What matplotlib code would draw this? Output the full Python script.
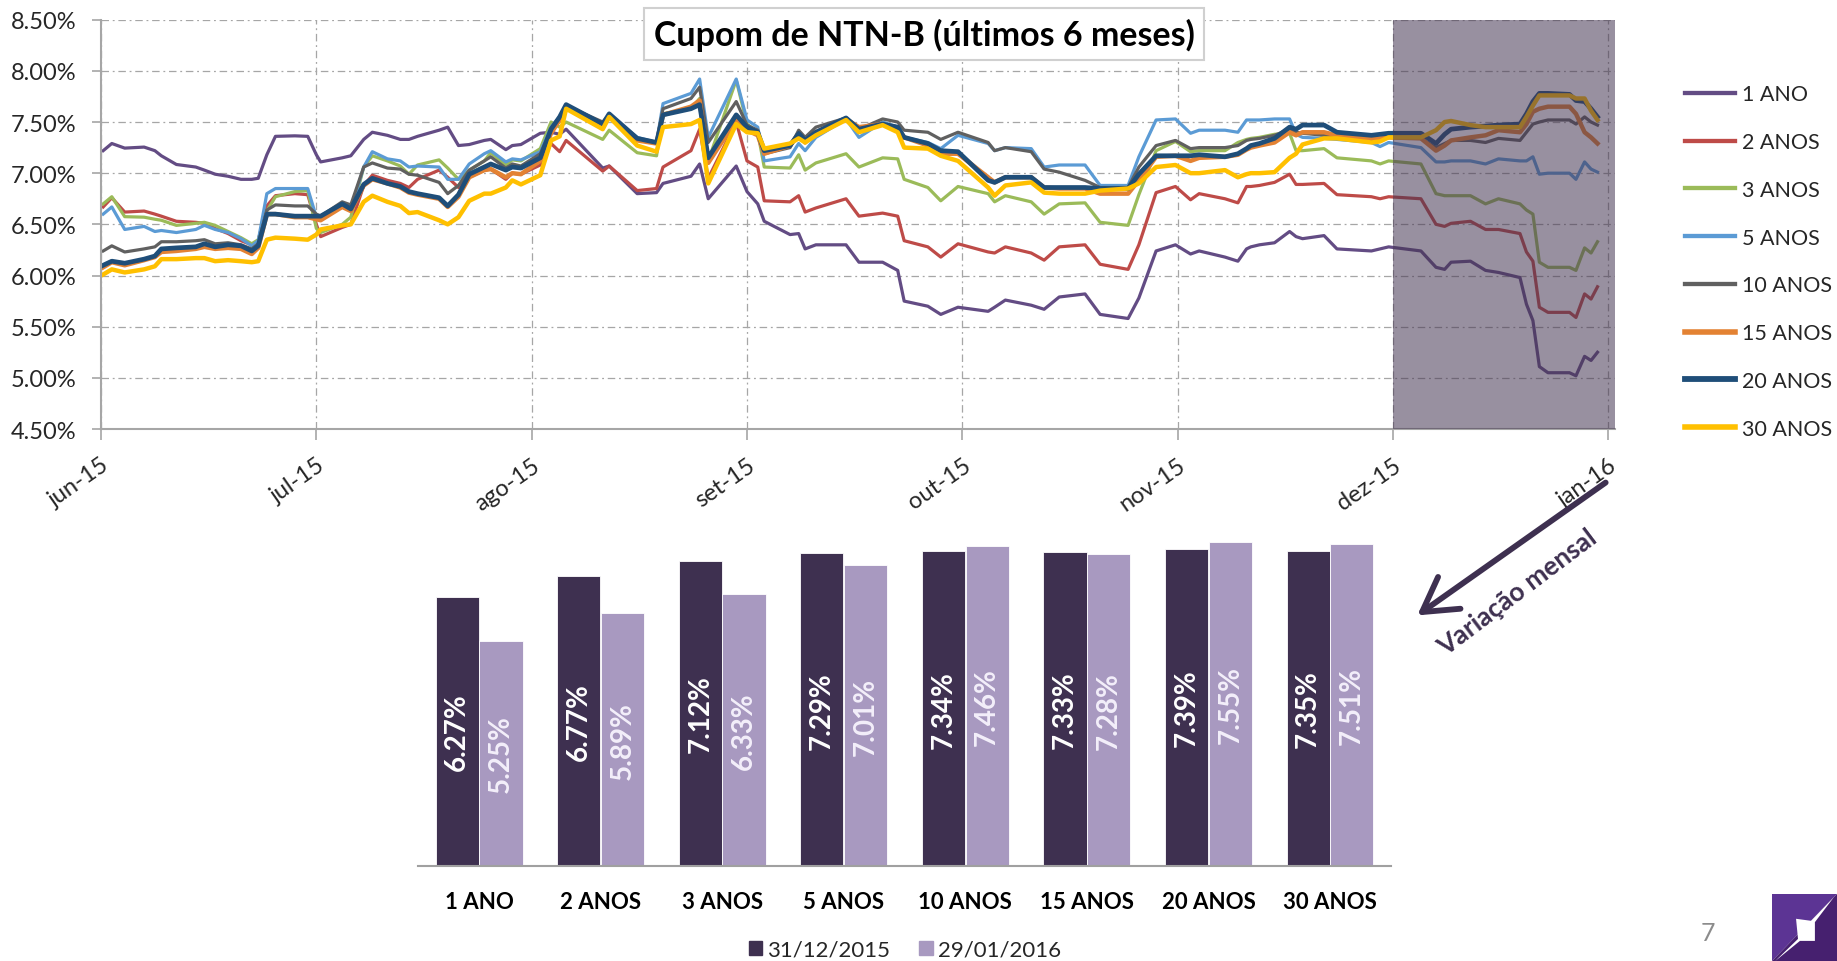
import matplotlib
matplotlib.use('Agg')
import matplotlib.pyplot as plt
import numpy as np
from matplotlib.patches import Polygon, Patch, FancyArrowPatch
from matplotlib.lines import Line2D
from matplotlib.ticker import FuncFormatter

plt.rcParams['font.family'] = ['Lato', 'DejaVu Sans']

# ---------------- data ----------------
month_labels = ['jun-15', 'jul-15', 'ago-15', 'set-15', 'out-15', 'nov-15', 'dez-15', 'jan-16']

# sample positions, in months since jun-15
months = [0.01, 0.05, 0.11, 0.20, 0.25, 0.28, 0.35, 0.44, 0.48, 0.53, 0.59, 0.65, 0.70, 0.73, 0.77, 0.81,
          0.90, 0.96, 1.00, 1.02, 1.12, 1.16, 1.22, 1.26, 1.33, 1.39, 1.43, 1.47, 1.57, 1.61, 1.66, 1.71, 1.78,
          1.81, 1.88, 1.91, 1.95, 2.04, 2.09, 2.13, 2.16, 2.33, 2.36, 2.49, 2.58, 2.61, 2.74, 2.78, 2.82,
          2.95, 3.00, 3.05, 3.08, 3.20, 3.24, 3.27, 3.32, 3.46,
          3.52, 3.63, 3.70, 3.73, 3.84, 3.90, 3.98, 4.12, 4.15, 4.20, 4.32, 4.38, 4.45, 4.57, 4.64, 4.77,
          4.82, 4.90, 4.99, 5.06, 5.10,
          5.22, 5.28, 5.32, 5.34, 5.38, 5.45, 5.52, 5.55, 5.58, 5.68, 5.74, 5.90, 5.94, 5.98, 6.13, 6.20,
          6.24, 6.27, 6.36, 6.43, 6.49, 6.59, 6.62, 6.65, 6.68, 6.72, 6.82, 6.85, 6.89, 6.92, 6.95]

ano1 = [7.22, 7.29, 7.245, 7.255, 7.22, 7.17, 7.085, 7.06, 7.03, 6.99, 6.97, 6.94, 6.94, 6.95, 7.18, 7.36,
        7.365, 7.36, 7.18, 7.11, 7.15, 7.17, 7.33, 7.40, 7.37, 7.33, 7.33, 7.36, 7.42, 7.45, 7.27, 7.28, 7.32,
        7.33, 7.23, 7.27, 7.28, 7.39, 7.40, 7.38, 7.43, 7.05, 7.07, 6.80, 6.81, 6.90, 6.97, 7.09, 6.75,
        7.07, 6.82, 6.70, 6.53, 6.40, 6.41, 6.26, 6.30, 6.30,
        6.13, 6.13, 6.05, 5.75, 5.70, 5.62, 5.69, 5.65, 5.69, 5.76, 5.71, 5.67, 5.79, 5.82, 5.62, 5.58,
        5.78, 6.24, 6.30, 6.21, 6.24,
        6.18, 6.14, 6.26, 6.28, 6.30, 6.32, 6.43, 6.38, 6.36, 6.39, 6.26, 6.24, 6.26, 6.28, 6.24, 6.08,
        6.06, 6.13, 6.14, 6.05, 6.03, 5.98, 5.72, 5.56, 5.11, 5.05, 5.05, 5.02, 5.21, 5.17, 5.25]

anos2 = [6.67, 6.76, 6.62, 6.63, 6.60, 6.58, 6.53, 6.52, 6.51, 6.46, 6.41, 6.34, 6.30, 6.34, 6.68, 6.78,
         6.80, 6.79, 6.50, 6.38, 6.47, 6.50, 6.88, 6.98, 6.93, 6.90, 6.86, 6.94, 7.03, 6.96, 6.86, 6.96, 7.03,
         7.04, 6.94, 7.00, 6.99, 7.08, 7.29, 7.21, 7.32, 7.02, 7.07, 6.83, 6.85, 7.06, 7.22, 7.43, 6.95,
         7.50, 7.12, 7.06, 6.73, 6.72, 6.78, 6.62, 6.66, 6.75,
         6.58, 6.61, 6.58, 6.34, 6.28, 6.18, 6.31, 6.23, 6.22, 6.28, 6.22, 6.15, 6.28, 6.30, 6.11, 6.06,
         6.30, 6.81, 6.87, 6.74, 6.80,
         6.75, 6.71, 6.87, 6.87, 6.88, 6.91, 6.99, 6.89, 6.89, 6.90, 6.79, 6.77, 6.75, 6.77, 6.75, 6.50,
         6.48, 6.51, 6.53, 6.45, 6.45, 6.41, 6.23, 6.14, 5.69, 5.64, 5.64, 5.59, 5.82, 5.77, 5.89]

anos3 = [6.70, 6.77, 6.575, 6.57, 6.55, 6.54, 6.49, 6.51, 6.52, 6.49, 6.43, 6.37, 6.31, 6.35, 6.63, 6.77,
         6.82, 6.83, 6.46, 6.42, 6.50, 6.57, 7.06, 7.17, 7.12, 7.07, 6.99, 7.08, 7.13, 7.05, 6.94, 7.03, 7.12,
         7.20, 7.08, 7.13, 7.12, 7.24, 7.50, 7.45, 7.50, 7.33, 7.42, 7.20, 7.17, 7.58, 7.63, 7.73, 7.12,
         7.91, 7.48, 7.40, 7.06, 7.05, 7.18, 7.03, 7.10, 7.19,
         7.06, 7.15, 7.14, 6.94, 6.86, 6.73, 6.87, 6.80, 6.72, 6.78, 6.72, 6.60, 6.70, 6.71, 6.52, 6.49,
         6.79, 7.22, 7.31, 7.21, 7.22,
         7.22, 7.30, 7.33, 7.34, 7.35, 7.38, 7.39, 7.22, 7.22, 7.24, 7.15, 7.12, 7.09, 7.12, 7.09, 6.80,
         6.78, 6.78, 6.78, 6.70, 6.75, 6.70, 6.64, 6.60, 6.13, 6.08, 6.08, 6.05, 6.27, 6.22, 6.33]

anos5 = [6.60, 6.67, 6.45, 6.48, 6.43, 6.44, 6.42, 6.45, 6.49, 6.45, 6.42, 6.36, 6.29, 6.34, 6.80, 6.85,
         6.85, 6.85, 6.57, 6.57, 6.68, 6.64, 7.06, 7.21, 7.14, 7.12, 7.06, 7.07, 7.06, 6.94, 6.94, 7.09, 7.19,
         7.22, 7.11, 7.14, 7.13, 7.21, 7.45, 7.55, 7.65, 7.48, 7.57, 7.35, 7.30, 7.68, 7.78, 7.92, 7.35,
         7.92, 7.52, 7.45, 7.12, 7.16, 7.29, 7.22, 7.35, 7.53,
         7.35, 7.50, 7.45, 7.35, 7.30, 7.24, 7.37, 7.29, 7.22, 7.25, 7.24, 7.06, 7.08, 7.08, 6.88, 6.88,
         7.16, 7.52, 7.53, 7.39, 7.42,
         7.42, 7.40, 7.52, 7.52, 7.52, 7.53, 7.53, 7.38, 7.35, 7.34, 7.33, 7.30, 7.26, 7.30, 7.25, 7.11,
         7.11, 7.12, 7.12, 7.09, 7.14, 7.12, 7.12, 7.16, 6.99, 7.00, 7.00, 6.94, 7.11, 7.04, 7.01]

anos10 = [6.24, 6.29, 6.23, 6.26, 6.28, 6.33, 6.33, 6.34, 6.35, 6.31, 6.32, 6.30, 6.26, 6.31, 6.64, 6.69,
          6.68, 6.68, 6.60, 6.58, 6.72, 6.69, 7.06, 7.10, 7.05, 7.04, 6.99, 6.98, 6.91, 6.80, 6.88, 7.03, 7.12,
          7.16, 7.05, 7.09, 7.07, 7.19, 7.43, 7.55, 7.66, 7.50, 7.57, 7.34, 7.30, 7.63, 7.73, 7.84, 7.30,
          7.70, 7.47, 7.42, 7.19, 7.25, 7.42, 7.35, 7.45, 7.54,
          7.43, 7.53, 7.50, 7.42, 7.40, 7.33, 7.40, 7.30, 7.22, 7.25, 7.21, 7.04, 7.01, 6.93, 6.86, 6.86,
          7.06, 7.27, 7.32, 7.24, 7.25,
          7.25, 7.27, 7.32, 7.33, 7.34, 7.37, 7.43, 7.40, 7.39, 7.37, 7.36, 7.32, 7.33, 7.35, 7.34, 7.25,
          7.29, 7.32, 7.32, 7.30, 7.34, 7.32, 7.40, 7.48, 7.50, 7.52, 7.52, 7.48, 7.55, 7.50, 7.47]

anos15 = [6.08, 6.13, 6.10, 6.15, 6.18, 6.23, 6.24, 6.26, 6.28, 6.26, 6.27, 6.26, 6.21, 6.27, 6.60, 6.60,
          6.57, 6.57, 6.55, 6.54, 6.67, 6.63, 6.88, 6.94, 6.90, 6.86, 6.81, 6.79, 6.75, 6.67, 6.77, 6.96, 7.03,
          7.04, 6.96, 7.00, 6.99, 7.12, 7.39, 7.52, 7.65, 7.47, 7.55, 7.32, 7.29, 7.57, 7.65, 7.71, 7.10,
          7.52, 7.42, 7.37, 7.19, 7.27, 7.39, 7.30, 7.40, 7.53,
          7.45, 7.48, 7.43, 7.35, 7.27, 7.19, 7.19, 6.96, 6.91, 6.96, 6.96, 6.86, 6.85, 6.85, 6.80, 6.80,
          6.93, 7.16, 7.17, 7.12, 7.15,
          7.16, 7.18, 7.23, 7.25, 7.27, 7.30, 7.40, 7.37, 7.40, 7.40, 7.37, 7.34, 7.34, 7.35, 7.34, 7.22,
          7.27, 7.32, 7.35, 7.37, 7.42, 7.40, 7.48, 7.60, 7.63, 7.65, 7.65, 7.58, 7.40, 7.35, 7.29]

anos20 = [6.10, 6.14, 6.12, 6.16, 6.19, 6.26, 6.27, 6.28, 6.31, 6.28, 6.30, 6.29, 6.24, 6.29, 6.60, 6.60,
          6.58, 6.58, 6.58, 6.58, 6.70, 6.65, 6.89, 6.95, 6.90, 6.87, 6.82, 6.80, 6.76, 6.68, 6.79, 6.99, 7.06,
          7.09, 7.03, 7.06, 7.05, 7.15, 7.43, 7.55, 7.67, 7.48, 7.58, 7.34, 7.30, 7.57, 7.63, 7.67, 7.15,
          7.57, 7.45, 7.40, 7.22, 7.27, 7.39, 7.32, 7.40, 7.54,
          7.43, 7.48, 7.45, 7.35, 7.29, 7.22, 7.21, 6.93, 6.91, 6.96, 6.96, 6.86, 6.86, 6.86, 6.85, 6.85,
          6.99, 7.17, 7.17, 7.17, 7.18,
          7.16, 7.19, 7.24, 7.27, 7.29, 7.34, 7.45, 7.43, 7.47, 7.47, 7.40, 7.37, 7.38, 7.39, 7.39, 7.29,
          7.38, 7.43, 7.45, 7.46, 7.47, 7.48, 7.58, 7.70, 7.78, 7.78, 7.77, 7.71, 7.70, 7.63, 7.55]

anos30 = [6.01, 6.06, 6.03, 6.06, 6.09, 6.16, 6.16, 6.17, 6.17, 6.14, 6.15, 6.14, 6.13, 6.14, 6.35, 6.37,
          6.36, 6.35, 6.40, 6.45, 6.49, 6.50, 6.72, 6.78, 6.72, 6.68, 6.61, 6.62, 6.54, 6.50, 6.57, 6.73, 6.80,
          6.80, 6.86, 6.93, 6.89, 6.98, 7.32, 7.36, 7.63, 7.43, 7.55, 7.27, 7.21, 7.45, 7.48, 7.52, 6.90,
          7.48, 7.40, 7.39, 7.24, 7.29, 7.34, 7.30, 7.37, 7.52,
          7.40, 7.47, 7.40, 7.25, 7.24, 7.17, 7.12, 6.86, 6.78, 6.88, 6.91, 6.81, 6.80, 6.80, 6.83, 6.85,
          6.90, 7.06, 7.08, 7.00, 7.00,
          7.03, 6.96, 6.99, 7.00, 7.00, 7.01, 7.15, 7.19, 7.28, 7.34, 7.34, 7.30, 7.31, 7.35, 7.35, 7.42,
          7.50, 7.51, 7.47, 7.45, 7.45, 7.45, 7.55, 7.66, 7.76, 7.76, 7.76, 7.73, 7.73, 7.61, 7.52]

series_names = ['1 ANO', '2 ANOS', '3 ANOS', '5 ANOS', '10 ANOS', '15 ANOS', '20 ANOS', '30 ANOS']
series_values = [ano1, anos2, anos3, anos5, anos10, anos15, anos20, anos30]

bar_categories = ['1 ANO', '2 ANOS', '3 ANOS', '5 ANOS', '10 ANOS', '15 ANOS', '20 ANOS', '30 ANOS']
bar_dec = [6.27, 6.77, 7.12, 7.29, 7.34, 7.33, 7.39, 7.35]
bar_jan = [5.25, 5.89, 6.33, 7.01, 7.46, 7.28, 7.55, 7.51]
bar_legend = ['31/12/2015', '29/01/2016']

# ---------------- styles ----------------
line_colors = ['#634c84', '#be4b48', '#9bbb59', '#5b9bd5', '#606060', '#e38233', '#1f4e79', '#ffc000']
line_widths = [2.3, 2.3, 2.3, 2.3, 2.3, 3.2, 3.4, 3.2]
dark_bar = '#3e3050'
light_bar = '#a899c0'
txt_col = '#262626'

fig = plt.figure(figsize=(18.37, 9.62), dpi=100)

# ---------------- top line chart ----------------
ax1 = fig.add_axes([0.055, 0.553, 0.824, 0.4255])
for name, vals, col, lw in zip(series_names, series_values, line_colors, line_widths):
    ax1.plot(months, vals, color=col, lw=lw, label=name, zorder=2, solid_joinstyle='round')
ax1.set_xlim(0, 7.03)
ax1.set_ylim(4.5, 8.5)
ax1.set_yticks(np.arange(4.5, 8.51, 0.5))
ax1.yaxis.set_major_formatter(FuncFormatter(lambda v, p: f'{v:.2f}%'))
ax1.set_xticks(range(len(month_labels)))
ax1.set_xticklabels(month_labels, rotation=35, ha='right', rotation_mode='anchor')
ax1.tick_params(axis='y', labelsize=17, colors='#a6a6a6', labelcolor=txt_col, length=6.5, width=1.2, pad=11)
ax1.tick_params(axis='x', labelsize=17, colors='#a6a6a6', labelcolor=txt_col, length=8, width=1.2, pad=10)
ax1.grid(True, color='#a6a6a6', lw=0.9, linestyle=(0, (6, 3, 1.5, 3)))
ax1.set_axisbelow(True)
for s in ['top', 'right']:
    ax1.spines[s].set_visible(False)
for s in ['left', 'bottom']:
    ax1.spines[s].set_color('#a6a6a6')
    ax1.spines[s].set_linewidth(1.5)
ax1.axvspan(6.0, 7.03, color='#443552', alpha=0.55, zorder=3, lw=0)

fig.text(0.503, 0.9636, 'Cupom de NTN-B (últimos 6 meses)', ha='center', va='center',
         fontsize=24.5, fontweight='bold', color='black',
         bbox=dict(boxstyle='square,pad=0.28', fc='white', ec='#d0d0d0', lw=1.5), zorder=10)

handles = [Line2D([0], [0], color=c, lw=w + 0.8) for c, w in zip(line_colors, line_widths)]
fig.legend(handles, series_names, loc='upper left', bbox_to_anchor=(1666 / 1837, 1 - 66 / 962),
           frameon=False, fontsize=15.5, labelspacing=1.29, handlelength=2.3, handletextpad=0.35,
           labelcolor=txt_col)

# ---------------- bottom bar chart ----------------
ax2 = fig.add_axes([0.2277, 0.0987, 0.5294, 0.3568])
x = np.arange(len(bar_categories))
w = 0.355
ax2.bar(x - 0.18, bar_dec, w, color=dark_bar, edgecolor='white', lw=0.6)
ax2.bar(x + 0.18, bar_jan, w, color=light_bar, edgecolor='white', lw=0.6)
for xi, v in zip(x, bar_dec):
    ax2.text(xi - 0.18, v / 2, f'{v:.2f}%', rotation=90, ha='center', va='center',
             color='white', fontsize=20, fontweight='bold')
for xi, v in zip(x, bar_jan):
    ax2.text(xi + 0.18, v / 2, f'{v:.2f}%', rotation=90, ha='center', va='center',
             color='#f3effa', fontsize=20, fontweight='bold')
ax2.set_xlim(-0.5, len(bar_categories) - 0.5)
ax2.set_ylim(0, 8)
ax2.set_yticks([])
ax2.set_xticks(x)
ax2.set_xticklabels(bar_categories, fontweight='bold', fontsize=16, color='black')
ax2.tick_params(axis='x', length=0, pad=18)
for s in ['top', 'right', 'left']:
    ax2.spines[s].set_visible(False)
ax2.spines['bottom'].set_color('#a0a0a0')
ax2.spines['bottom'].set_linewidth(1.5)
ax2.patch.set_alpha(0)

fig.legend([Patch(color=dark_bar), Patch(color=light_bar)], bar_legend, loc='center',
           bbox_to_anchor=(905 / 1837, 1 - 951 / 962), ncol=2, frameon=False, fontsize=16,
           handlelength=0.6, handleheight=0.6, handletextpad=0.25, columnspacing=1.3,
           labelcolor=txt_col)

# ---------------- annotation arrow ----------------
arr = FancyArrowPatch((0.8753, 0.4990), (0.7703, 0.3576), transform=fig.transFigure,
                      arrowstyle='->,head_length=0.6,head_width=0.35', mutation_scale=40,
                      lw=4.2, color='#3e3050')
fig.add_artist(arr)
fig.text(0.8258, 0.3840, 'Variação mensal', rotation=37, ha='center', va='center',
         rotation_mode='anchor', fontsize=19, fontweight='bold', color='#3e3050')

# page number and logo
fig.text(1708 / 1837, 1 - 934 / 962, '7', color='#8c8c8c', fontsize=18, ha='center', va='center')
lx0, ly0 = 1772 / 1837, 0.0
lw_, lh_ = 65 / 1837, 67 / 962
def L(px, py):
    return (lx0 + px * lw_, ly0 + py * lh_)
fig.add_artist(Polygon([L(0, 0), L(0, 1), L(1, 1)], closed=True, transform=fig.transFigure,
                       fc='#5c3494', ec='none'))
fig.add_artist(Polygon([L(0, 0), L(1, 1), L(1, 0)], closed=True, transform=fig.transFigure,
                       fc='#46206f', ec='none'))
fig.add_artist(Polygon([L(0.05, 0.0), L(0.40, 0.33), L(0.37, 0.63), L(0.60, 0.60), L(0.95, 0.95),
                        L(0.66, 0.58), L(0.66, 0.30), L(0.43, 0.30)], closed=True,
                       transform=fig.transFigure, fc='white', ec='none'))

fig.savefig('out.png', dpi=100)
